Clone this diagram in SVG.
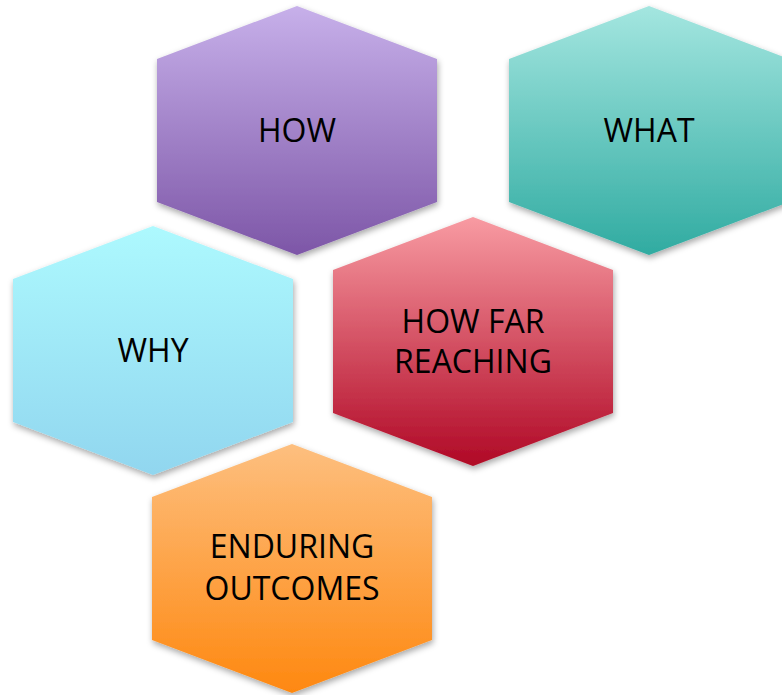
<svg xmlns="http://www.w3.org/2000/svg" width="782" height="695" viewBox="0 0 782 695">
<defs>
<linearGradient id="gHow" x1="0" y1="0" x2="0" y2="1"><stop offset="0" stop-color="#c7b0ea"/><stop offset="1" stop-color="#7d56a7"/></linearGradient>
<linearGradient id="gWhat" x1="0" y1="0" x2="0" y2="1"><stop offset="0" stop-color="#a4e6e0"/><stop offset="1" stop-color="#30aba1"/></linearGradient>
<linearGradient id="gWhy" x1="0" y1="0" x2="0" y2="1"><stop offset="0" stop-color="#adf9fe"/><stop offset="1" stop-color="#91d6ef"/></linearGradient>
<linearGradient id="gFar" x1="0" y1="0" x2="0" y2="1"><stop offset="0" stop-color="#f89ba2"/><stop offset="1" stop-color="#b00826"/></linearGradient>
<linearGradient id="gEnd" x1="0" y1="0" x2="0" y2="1"><stop offset="0" stop-color="#fdbf7f"/><stop offset="1" stop-color="#fe8810"/></linearGradient>
<filter id="sh" x="-10%" y="-10%" width="120%" height="125%"><feDropShadow dx="1" dy="3" stdDeviation="3" flood-color="#000" flood-opacity="0.35"/></filter>
<polygon id="hex" points="140,0 280,53 280,196 140,249 0,196 0,53"/>
</defs>
<style>
.lbl{font-family:"Open Sans","Noto Sans","Liberation Sans",sans-serif;font-size:32px;fill:#000;text-anchor:middle}
</style>
<g id="connectors"/>
<g id="node-how" transform="translate(157,6)"><use href="#hex" fill="url(#gHow)" filter="url(#sh)"/><text class="lbl" x="140" y="136">HOW</text></g>
<g id="node-what" transform="translate(509,6)"><use href="#hex" fill="url(#gWhat)" filter="url(#sh)"/><text class="lbl" x="140" y="136">WHAT</text></g>
<g id="node-why" transform="translate(13,226)"><use href="#hex" fill="url(#gWhy)" filter="url(#sh)"/><text class="lbl" x="140" y="136">WHY</text></g>
<g id="node-howfar" transform="translate(333,217)"><use href="#hex" fill="url(#gFar)" filter="url(#sh)"/><text class="lbl" x="140" y="116">HOW FAR</text><text class="lbl" x="140" y="156">REACHING</text></g>
<g id="node-enduring" transform="translate(152,444)"><use href="#hex" fill="url(#gEnd)" filter="url(#sh)"/><text class="lbl" x="140" y="114">ENDURING</text><text class="lbl" x="140" y="156">OUTCOMES</text></g>
</svg>
